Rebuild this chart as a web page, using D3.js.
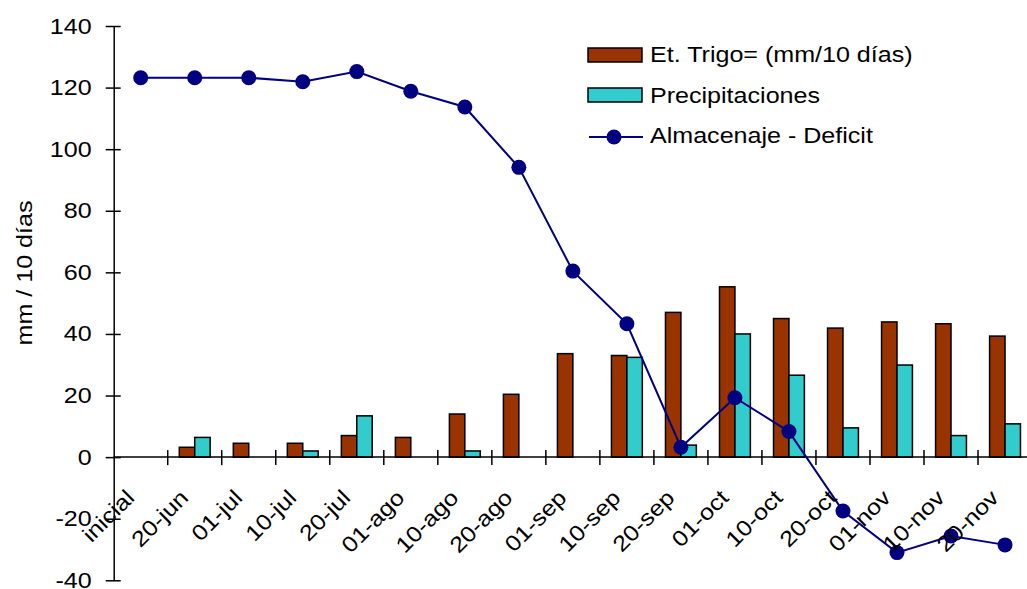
<!DOCTYPE html>
<html>
<head>
<meta charset="utf-8">
<script src="https://cdn.jsdelivr.net/npm/d3@7"></script>
<style>
  body { margin: 0; background: #fff; }
  svg { display: block; font-family: "Liberation Sans", Arial, sans-serif; }
</style>
</head>
<body>
<div id="chart"></div>
<script>
let categories = ['inicial', '20-jun', '01-jul', '10-jul', '20-jul', '01-ago', '10-ago', '20-ago',
  '01-sep', '10-sep', '20-sep', '01-oct', '10-oct', '20-oct', '01-nov', '10-nov', '20-nov']
let etTrigo = [0, 3.2, 4.5, 4.5, 7, 6.4, 14, 20.4, 33.6, 33, 47, 55.3, 45, 41.9, 43.9, 43.3, 39.3]
let precipitaciones = [0, 6.4, 0, 2, 13.4, 0, 2, 0, 0, 32.4, 3.9, 40, 26.6, 9.5, 29.9, 7, 10.8]
let almacenaje = [123.2, 123.2, 123.2, 121.9, 125.2, 118.8, 113.7, 94.1, 60.4, 43.3, 3.2, 19.3, 8.3, -17.5, -31, -25.6, -28.5]
let yTicks = [-40, -20, 0, 20, 40, 60, 80, 100, 120, 140]
let seriesNames = ['Et. Trigo= (mm/10 días)', 'Precipitaciones', 'Almacenaje - Deficit']

let width = 1027
let height = 589
let plotLeft = 113.7
let bandWidth = 54.02
let fontSize = 22
let stretch = 1.14 // the original text is a bit wider than Arial

let svg = d3.select('#chart')
  .append('svg')
    .attr('width', width)
    .attr('height', height)

// Scales
let xScale = d3.scaleBand()
  .domain(categories)
  .range([plotLeft, plotLeft + bandWidth * categories.length])
  .padding(0)
let yScale = d3.scaleLinear().domain([-40, 140]).range([580.3, 26])

let groupWidth = xScale.bandwidth() / 1.75
let barScale = d3.scaleBand()
  .domain(['et', 'pp'])
  .range([-groupWidth / 2, groupWidth / 2])

let barData = []
categories.forEach((c, i) => {
  barData.push({ cat: c, key: 'et', value: etTrigo[i] })
  barData.push({ cat: c, key: 'pp', value: precipitaciones[i] })
})
let colors = { et: '#993300', pp: '#33CCCC' }

function center(c) {
  return xScale(c) + xScale.bandwidth() / 2
}

// Bars
svg.append('g')
  .selectAll('rect')
  .data(barData.filter(d => d.value > 0))
  .enter().append('rect')
    .attr('x', d => center(d.cat) + barScale(d.key))
    .attr('y', d => yScale(d.value))
    .attr('width', barScale.bandwidth())
    .attr('height', d => yScale(0) - yScale(d.value))
    .attr('fill', d => colors[d.key])
    .attr('stroke', '#000')
    .attr('stroke-width', 1.5)

// Y axis
let yAxis = svg.append('g')
  .attr('transform', `translate(${plotLeft}, 0)`)
  .call(d3.axisLeft(yScale).tickValues(yTicks).tickFormat(d => String(d)).tickSize(8).tickSizeOuter(0))
yAxis.select('.domain').attr('stroke', '#000').attr('stroke-width', 1.5)
yAxis.selectAll('.tick line').attr('x2', 7).attr('x1', -8).attr('stroke-width', 1.5)
yAxis.selectAll('.tick text')
  .attr('x', 0)
  .attr('transform', `translate(-22, 0) scale(${stretch}, 1)`)
  .attr('font-size', fontSize)
  .attr('font-family', '"Liberation Sans", Arial, sans-serif')
  .attr('fill', '#000')

// X axis (at zero)
let xAxis = svg.append('g')
  .attr('transform', `translate(0, ${yScale(0)})`)
xAxis.append('line')
  .attr('x1', plotLeft)
  .attr('x2', xScale.range()[1])
  .attr('stroke', '#000')
  .attr('stroke-width', 1.5)
xAxis.selectAll('.tick')
  .data(categories.slice(1))
  .enter().append('line')
    .attr('x1', d => xScale(d))
    .attr('x2', d => xScale(d))
    .attr('y1', -7)
    .attr('y2', 8)
    .attr('stroke', '#000')
    .attr('stroke-width', 1.5)

// Line series
let line = d3.line()
  .x((d, i) => center(categories[i]))
  .y(d => yScale(d))

svg.append('path')
  .datum(almacenaje)
  .attr('d', line)
  .attr('fill', 'none')
  .attr('stroke', '#000080')
  .attr('stroke-width', 2)

svg.append('g')
  .selectAll('circle')
  .data(almacenaje)
  .enter().append('circle')
    .attr('cx', (d, i) => center(categories[i]))
    .attr('cy', d => yScale(d))
    .attr('r', 7.5)
    .attr('fill', '#000080')

// X labels, rotated, drawn over the line like the original
svg.append('g')
  .selectAll('text')
  .data(categories)
  .enter().append('text')
    .attr('transform', d => `translate(${center(d) - 5}, ${yScale(0) + 42}) rotate(-45) scale(${stretch}, 1)`)
    .attr('text-anchor', 'end')
    .attr('font-size', fontSize)
    .attr('fill', '#000')
    .text(d => d)

// Y axis title
svg.append('text')
  .attr('transform', `translate(32, 273) rotate(-90) scale(${stretch}, 1)`)
  .attr('text-anchor', 'middle')
  .attr('font-size', fontSize)
  .text('mm / 10 días')

// Legend
let legend = svg.append('g').attr('transform', 'translate(588, 0)')
let legendRows = [62, 103, 143]

legend.append('rect')
  .attr('x', 0).attr('y', 48).attr('width', 54).attr('height', 14)
  .attr('fill', colors.et).attr('stroke', '#000').attr('stroke-width', 1.5)
legend.append('rect')
  .attr('x', 0).attr('y', 88).attr('width', 54).attr('height', 14)
  .attr('fill', colors.pp).attr('stroke', '#000').attr('stroke-width', 1.5)
legend.append('line')
  .attr('x1', 1).attr('x2', 55).attr('y1', 137).attr('y2', 137)
  .attr('stroke', '#000080').attr('stroke-width', 2)
legend.append('circle')
  .attr('cx', 26).attr('cy', 137).attr('r', 7.5).attr('fill', '#000080')

legend.selectAll('text.legend')
  .data(seriesNames)
  .enter().append('text')
    .attr('class', 'legend')
    .attr('transform', (d, i) => `translate(62, ${legendRows[i]}) scale(${stretch}, 1)`)
    .attr('font-size', fontSize)
    .text(d => d)
</script>
</body>
</html>
